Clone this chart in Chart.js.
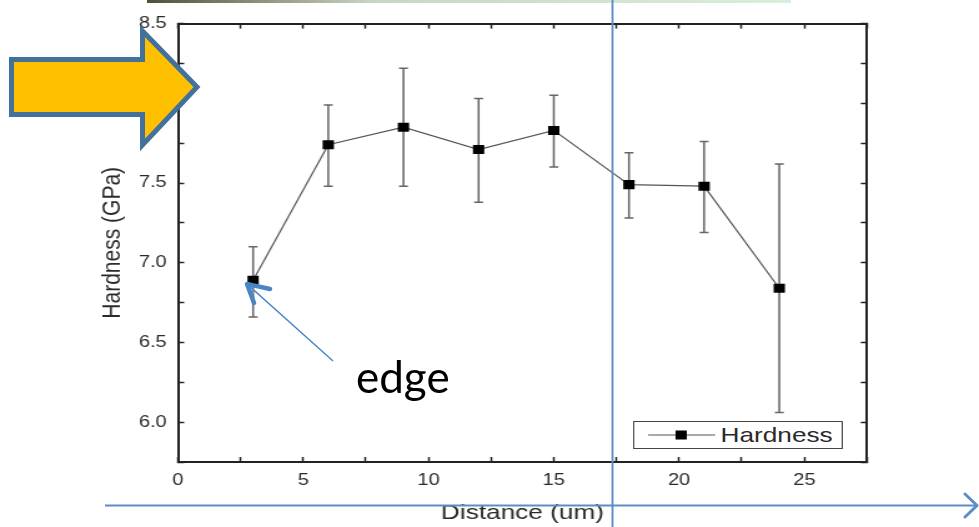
<!DOCTYPE html>
<html>
<head>
<meta charset="utf-8">
<script src="https://cdn.jsdelivr.net/npm/chart.js@4.4.0/dist/chart.umd.min.js"></script>
<style>
  html, body { margin: 0; padding: 0; background: #fff; }
  body { width: 979px; height: 527px; position: relative; overflow: hidden; }
  /* the plot in the slide is stretched sideways, so the canvas is too */
  #stretch { position: absolute; left: 0; top: 0; width: 784px; height: 527px;
             transform: scaleX(1.2487); transform-origin: 0 0; }
  #legend { position: absolute; left: 507px; top: 421px; width: 168px; height: 28px;
            box-sizing: border-box; border: 1px solid #444; background: #fff;
            font: 21px "Liberation Sans", Arial, sans-serif; color: #2a2a2a; }
  #legend svg { position: absolute; left: 11px; top: 8px; }
  #legend span { position: absolute; left: 69px; top: 0; line-height: 26px; }
  #topbar { position: absolute; left: 147px; top: 0; width: 644px; height: 3px;
            background: linear-gradient(to right, #4d5236 0%, #8f947c 18%, #c9d6c4 35%, #d9eedc 100%); }
  #overlay { position: absolute; left: 0; top: 0; }
</style>
</head>
<body>
<div id="topbar"></div>
<div id="stretch">
  <canvas id="hardnessChart" width="784" height="527"></canvas>
  <div id="legend">
    <svg width="54" height="10">
      <line x1="0" y1="5" x2="54" y2="5" stroke="#555" stroke-width="1"/>
      <rect x="22" y="0.5" width="9" height="9" fill="#000"/>
    </svg>
    <span id="legendText"></span>
  </div>
</div>
<svg id="overlay" width="979" height="527">
  <polygon points="142.5,31 197,87 142.5,145 142.5,114.5 11.5,114.5 11.5,59.5 142.5,59.5"
           fill="#ffc000" stroke="#41719c" stroke-width="5" stroke-linejoin="miter"/>
  <line x1="612.5" y1="0" x2="612.5" y2="527" stroke="#5b8dc9" stroke-width="2"/>
  <line x1="105" y1="505.5" x2="977" y2="505.5" stroke="#5b8dc9" stroke-width="2"/>
  <polyline points="965,494 977,505.5 965,517" fill="none" stroke="#5b8dc9" stroke-width="3" stroke-linecap="round" stroke-linejoin="round"/>
  <line x1="333" y1="361" x2="248" y2="285" stroke="#4a86c5" stroke-width="1.5"/>
  <polyline points="270,289 247,284 254,303" fill="none" stroke="#4a86c5" stroke-width="4.5" stroke-linecap="round" stroke-linejoin="round"/>
  <text x="356" y="393" font-family="Lato, 'Open Sans', sans-serif" font-size="44" fill="#000">edge</text>
</svg>
<script>
const distance = [3, 6, 9, 12, 15, 18, 21, 24];
const hardness = [6.89, 7.74, 7.85, 7.71, 7.83, 7.49, 7.48, 6.84];
const errHigh = [7.10, 7.99, 8.22, 8.03, 8.05, 7.69, 7.76, 7.62];
const errLow = [6.66, 7.48, 7.48, 7.38, 7.60, 7.28, 7.19, 6.06];
const xTickLabels = [0, 5, 10, 15, 20, 25];
const yTickLabels = [6.0, 6.5, 7.0, 7.5, 8.0, 8.5];

const fam = '"Liberation Sans", Arial, sans-serif';
const tickFont = { family: fam, size: 16 };
const titleFont = { family: fam, size: 21 };

// vertical error bars, drawn under the line and markers
const errorBars = {
    id: 'errorBars',
    beforeDatasetsDraw(chart) {
        const { ctx, scales: { x, y } } = chart;
        ctx.save();
        ctx.strokeStyle = '#666';
        ctx.lineWidth = 1.5;
        distance.forEach((d, i) => {
            const px = x.getPixelForValue(d);
            const top = y.getPixelForValue(errHigh[i]);
            const bot = y.getPixelForValue(errLow[i]);
            ctx.beginPath();
            ctx.moveTo(px, top); ctx.lineTo(px, bot);
            ctx.moveTo(px - 3.6, top); ctx.lineTo(px + 3.6, top);
            ctx.moveTo(px - 3.6, bot); ctx.lineTo(px + 3.6, bot);
            ctx.stroke();
        });
        ctx.restore();
    }
};

const inwardGrid = { drawOnChartArea: false, tickLength: -5, tickColor: '#222', tickWidth: 1.5 };
const frame = { color: '#222', width: 2 };

const data = {
    datasets: [{
        label: 'Hardness',
        data: distance.map((d, i) => ({ x: d, y: hardness[i] })),
        borderColor: '#555',
        borderWidth: 1.2,
        pointStyle: 'rect',
        pointRadius: 6.4,
        pointBackgroundColor: '#000',
        pointBorderWidth: 0,
        tension: 0,
    }]
};

const config = {
    type: 'line',
    data: data,
    options: {
        responsive: false,
        animation: false,
        layout: { padding: 0 },
        plugins: { legend: { display: false }, tooltip: { enabled: false } },
        scales: {
            x: {
                type: 'linear', position: 'bottom', min: 0, max: 27.5,
                ticks: {
                    stepSize: 2.5, autoSkip: false, maxRotation: 0, padding: 14,
                    color: '#2a2a2a', font: tickFont,
                    callback: v => xTickLabels.includes(v) ? String(v) : ''
                },
                grid: inwardGrid,
                border: frame,
                title: { display: true, text: 'Distance (um)', color: '#2a2a2a', font: titleFont, padding: { top: 0, bottom: 1 } },
                afterFit: s => { s.height = 65; }
            },
            y: {
                type: 'linear', position: 'left', min: 5.75, max: 8.5,
                ticks: {
                    stepSize: 0.25, autoSkip: false, padding: 14,
                    color: '#2a2a2a', font: tickFont,
                    callback: v => {
                        const hit = yTickLabels.find(l => Math.abs(l - v) < 1e-6);
                        return hit === undefined ? '' : hit.toFixed(1);
                    }
                },
                grid: inwardGrid,
                border: frame,
                title: { display: true, text: 'Hardness (GPa)', color: '#2a2a2a', font: titleFont, padding: { top: 78, bottom: 0 } },
                afterFit: s => { s.width = 142.5; }
            },
            x2: {
                type: 'linear', axis: 'x', position: 'top', min: 0, max: 27.5,
                ticks: { stepSize: 2.5, autoSkip: false, display: false },
                grid: inwardGrid,
                border: frame,
                afterFit: s => { s.height = 22; }
            },
            y2: {
                type: 'linear', axis: 'y', position: 'right', min: 5.75, max: 8.5,
                ticks: { stepSize: 0.25, autoSkip: false, display: false },
                grid: inwardGrid,
                border: frame,
                afterFit: s => { s.width = 89.7; }
            }
        }
    },
    plugins: [errorBars]
};

const chart = new Chart(document.getElementById('hardnessChart').getContext('2d'), config);
document.getElementById('legendText').textContent = chart.data.datasets[0].label;
</script>
</body>
</html>
